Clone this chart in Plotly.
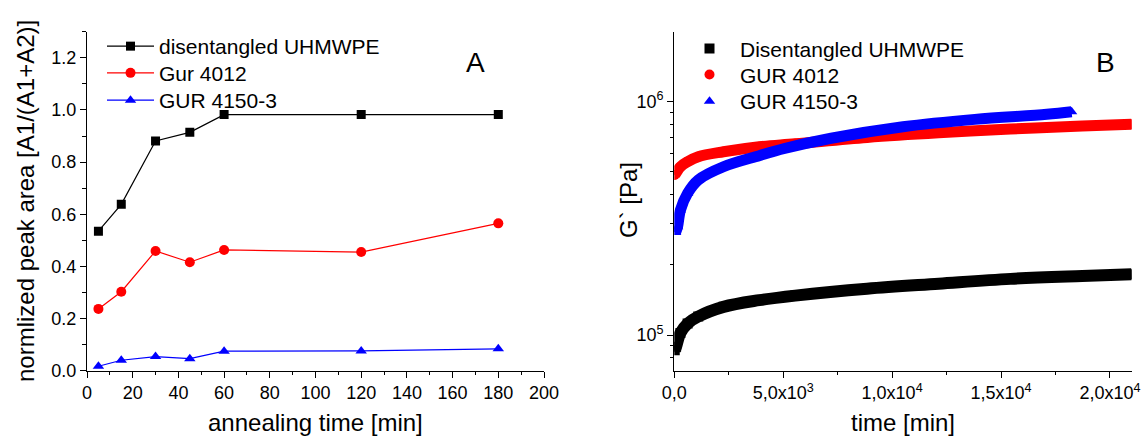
import plotly.graph_objects as go

# ---------------- Data: panel A ----------------
anneal_time = [5, 15, 30, 45, 60, 120, 180]
dis_uhmwpe = [0.535, 0.638, 0.881, 0.914, 0.982, 0.982, 0.982]
gur4012_a = [0.237, 0.303, 0.459, 0.416, 0.463, 0.455, 0.565]
gur4150_a = [0.017, 0.040, 0.054, 0.046, 0.075, 0.076, 0.084]

# ---------------- Data: panel B (read along band centres) ----------------
t_dis = [20, 82, 280, 610, 1100, 2257, 3900, 5550, 8850, 12140, 15440, 18730, 20990]
g_dis = [8.6e4, 8.9e4, 1.02e5, 1.12e5, 1.20e5, 1.32e5, 1.41e5, 1.475e5, 1.58e5, 1.66e5, 1.74e5, 1.79e5, 1.82e5]

t_4012 = [20, 280, 610, 1100, 2257, 3900, 5550, 8850, 12140, 15440, 18730, 20990]
g_4012 = [4.85e5, 5.26e5, 5.53e5, 5.81e5, 6.10e5, 6.41e5, 6.60e5, 7.03e5, 7.36e5, 7.63e5, 7.87e5, 8.0e5]

t_4150 = [60, 150, 280, 610, 1100, 2257, 3900, 5057, 7200, 10500, 13800, 17100, 18240]
g_4150 = [2.75e5, 2.91e5, 3.43e5, 4.05e5, 4.62e5, 5.26e5, 5.87e5, 6.30e5, 6.97e5, 7.81e5, 8.40e5, 8.83e5, 9.06e5]

x_ticks_b = [0, 5000, 10000, 15000, 20000]
x_ticktext_b = ["0,0", "5,0x10<sup>3</sup>", "1,0x10<sup>4</sup>", "1,5x10<sup>4</sup>", "2,0x10<sup>4</sup>"]

W, H = 1143, 438
FONT = "Arial, Liberation Sans, sans-serif"


def px_x(p):
    return p / W


def px_y(p):
    return 1 - p / H


fig = go.Figure()

# Panel A (each entry in its own legend so rows can be spaced like the reference)
series_a = [(dis_uhmwpe, "black", "square", 9, "disentangled UHMWPE", "legend"),
            (gur4012_a, "red", "circle", 10, "Gur 4012", "legend2"),
            (gur4150_a, "blue", "triangle-up", 10, "GUR 4150-3", "legend3")]
for yv, col, sym, sz, nm, lg in series_a:
    fig.add_trace(go.Scatter(x=anneal_time, y=yv, mode="lines+markers", name=nm,
                             line=dict(color=col, width=1.2), marker=dict(symbol=sym, size=sz, color=col),
                             xaxis="x", yaxis="y", legend=lg))

# Panel B: dense bands drawn as thick lines, with markers at the read points
series_b = [(t_dis, g_dis, "black", "square", "Disentangled UHMWPE", "legend4", 12),
            (t_4012, g_4012, "red", "circle", "GUR 4012", "legend5", 11),
            (t_4150, g_4150, "blue", "triangle-up", "GUR 4150-3", "legend6", 11)]
for t, g, col, sym, nm, lg, lw in series_b:
    fig.add_trace(go.Scatter(x=t, y=g, mode="lines", line=dict(color=col, width=lw, shape="spline"),
                             showlegend=False, xaxis="x2", yaxis="y2", hoverinfo="skip"))
    fig.add_trace(go.Scatter(x=t, y=g, mode="markers", name=nm,
                             marker=dict(symbol=sym, size=10, color=col),
                             xaxis="x2", yaxis="y2", legend=lg))

ax_common = dict(showline=True, linecolor="black", linewidth=1.2, ticks="outside", ticklen=6,
                 tickwidth=1.2, tickcolor="black", showgrid=False, zeroline=False, mirror=False,
                 automargin=False, tickfont=dict(family=FONT, size=18, color="black"))
minor_style = dict(ticks="outside", ticklen=3.5, tickcolor="black", tickwidth=1.2)

xa = dict(ax_common, domain=[px_x(87), px_x(544)], range=[0, 200], dtick=20, tick0=0,
          minor=dict(minor_style, dtick=10), anchor="y")
ya = dict(ax_common, domain=[px_y(370.7), px_y(31.7)], range=[0, 1.3], dtick=0.2, tick0=0, tickformat=".1f",
          minor=dict(minor_style, dtick=0.1), anchor="x")
xb = dict(ax_common, domain=[px_x(674.3), px_x(1131.7)], range=[0, 21000], tickmode="array",
          tickvals=x_ticks_b, ticktext=x_ticktext_b,
          minor=dict(minor_style, tickmode="array", tickvals=[2500, 7500, 12500, 17500]), anchor="y2")
minor_log = [8e4, 9e4] + [k * 1e5 for k in range(2, 10)]
yb = dict(ax_common, domain=[px_y(370.7), px_y(31.7)], type="log", range=[4.847, 6.300], tickmode="array",
          tickvals=[1e5, 1e6], ticktext=["10<sup>5</sup>", "10<sup>6</sup>"],
          minor=dict(minor_style, tickmode="array", tickvals=minor_log), anchor="x2")

annotations = [
    dict(text="annealing time [min]", x=px_x(315.5), y=px_y(422), xref="paper", yref="paper",
         showarrow=False, font=dict(family=FONT, size=24, color="black"), xanchor="center", yanchor="middle"),
    dict(text="normlized peak area [A1/(A1+A2)]", x=px_x(25), y=px_y(201), xref="paper", yref="paper",
         showarrow=False, textangle=-90, font=dict(family=FONT, size=24, color="black"),
         xanchor="center", yanchor="middle"),
    dict(text="time [min]", x=px_x(903), y=px_y(422), xref="paper", yref="paper",
         showarrow=False, font=dict(family=FONT, size=24, color="black"), xanchor="center", yanchor="middle"),
    dict(text="G` [Pa]", x=px_x(628), y=px_y(200), xref="paper", yref="paper",
         showarrow=False, textangle=-90, font=dict(family=FONT, size=24, color="black"),
         xanchor="center", yanchor="middle"),
    dict(text="A", x=px_x(475), y=px_y(62), xref="paper", yref="paper", showarrow=False,
         font=dict(family=FONT, size=28, color="black"), xanchor="center", yanchor="middle"),
    dict(text="B", x=px_x(1105), y=px_y(62), xref="paper", yref="paper", showarrow=False,
         font=dict(family=FONT, size=28, color="black"), xanchor="center", yanchor="middle"),
]


def leg(xp, row_center, width):
    return dict(x=px_x(xp), y=px_y(row_center - 19), xanchor="left", yanchor="top",
                bgcolor="rgba(0,0,0,0)", font=dict(family=FONT, size=21, color="black"),
                itemwidth=width, tracegroupgap=0)


fig.update_layout(
    width=W, height=H, margin=dict(l=0, r=0, t=0, b=0),
    paper_bgcolor="white", plot_bgcolor="white",
    xaxis=xa, yaxis=ya, xaxis2=xb, yaxis2=yb,
    annotations=annotations,
    legend=leg(102, 45, 47), legend2=leg(102, 71.7, 47), legend3=leg(102, 99, 47),
    legend4=leg(679, 47.3, 51), legend5=leg(679, 73.3, 51), legend6=leg(679, 100, 51),
    showlegend=True,
)

fig.write_html("out.html", config={"displayModeBar": False},
               post_script="document.body.style.margin='0px';")
